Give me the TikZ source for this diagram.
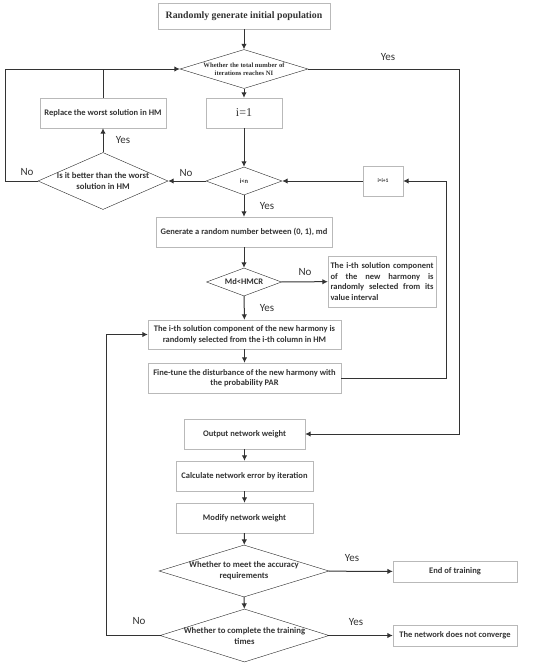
\documentclass[tikz,border=0pt]{standalone}
\usepackage{fontspec}
\setmainfont{Carlito}
\newfontfamily\tms{Liberation Serif}
\usetikzlibrary{shapes.geometric,arrows.meta,shadows}

\newcommand{\jline}[1]{\makebox[103pt][s]{#1}}

\tikzset{
  box/.style={draw=gray!55, fill=white, inner sep=2pt, align=center,
    text=black!80, font=\bfseries\fontsize{8.5}{10.5}\selectfont,
    drop shadow={opacity=0.2, shadow xshift=0.8pt, shadow yshift=-0.8pt}},
  dec/.style={diamond, draw=black!85, fill=white, inner sep=0pt},
  dtxt/.style={align=center, inner sep=0pt, text=black!80,
    font=\bfseries\fontsize{8.7}{11}\selectfont},
  lbl/.style={text=black!80, font=\fontsize{11}{13}\selectfont},
  arr/.style={-{Latex[length=5.5pt,width=5.5pt]}, draw=black!80, line width=1pt},
  ln/.style={draw=black!80, line width=1pt}
}

\begin{document}
\begin{tikzpicture}[x=1pt, y=-1pt]
    \useasboundingbox (0,0) rectangle (550,670);

    % harmony search part
    \node[box, minimum width=172pt, minimum height=26pt,
      font=\tms\bfseries\fontsize{9.8}{11}\selectfont] (start) at (244,16)
      {Randomly generate initial population};
    \node[dec, minimum width=128pt, minimum height=39pt,
      label={[dtxt, font=\tms\bfseries\fontsize{6.6}{8}\selectfont]center:{Whether the total number of\\iterations reaches NI}}]
      (ni) at (244,69) {};
    \node[box, minimum width=76pt, minimum height=30pt,
      font=\tms\fontsize{12}{14}\selectfont] (ione) at (244,113) {i=1};
    \node[box, minimum width=126pt, minimum height=30pt] (rep) at (103,113)
      {Replace the worst solution in HM};
    \node[dec, minimum width=130pt, minimum height=57pt,
      label={[dtxt]center:{Is it better than the worst\\solution in HM}}]
      (better) at (103,181) {};
    \node[dec, minimum width=76pt, minimum height=28pt,
      label={[dtxt, font=\bfseries\fontsize{6.5}{8}\selectfont]center:i<n}]
      (iln) at (244,181) {};
    \node[box, minimum width=40pt, minimum height=30pt,
      font=\bfseries\fontsize{5.5}{6.5}\selectfont] (inc) at (383,181) {i=i+1};
    \node[box, minimum width=176pt, minimum height=30pt] (gen) at (244,232)
      {Generate a random number between (0, 1), md};
    \node[dec, minimum width=75pt, minimum height=28pt,
      label={[dtxt, font=\bfseries\fontsize{8.5}{10}\selectfont]center:Md<HMCR}]
      (md) at (244,282) {};
    \node[box, minimum width=108pt, minimum height=51pt, align=left] (intv) at (382,281.5)
      {\jline{The i-th solution component}\\\jline{of the new harmony is}\\
       \jline{randomly selected from its}\\value interval};
    \node[box, minimum width=193pt, minimum height=29pt] (col) at (244.5,334.5)
      {The i-th solution component of the new harmony is\\randomly selected from the i-th column in HM};
    \node[box, minimum width=193pt, minimum height=30pt] (fine) at (244.5,378)
      {Fine-tune the disturbance of the new harmony with\\the probability PAR};

    % network training part
    \node[box, minimum width=121pt, minimum height=30pt] (out) at (244.5,434)
      {Output network weight};
    \node[box, minimum width=137pt, minimum height=30pt] (calc) at (244.5,476)
      {Calculate network error by iteration};
    \node[box, minimum width=137pt, minimum height=30pt] (mod) at (244.5,518)
      {Modify network weight};
    \node[dec, minimum width=170pt, minimum height=52pt,
      label={[dtxt]center:{Whether to meet the accuracy\\requirements}}]
      (acc) at (244,571) {};
    \node[dec, minimum width=169pt, minimum height=53pt,
      label={[dtxt]center:{Whether to complete the training\\times}}]
      (times) at (244.5,635.5) {};
    \node[box, minimum width=124pt, minimum height=21pt] (endt) at (455,571.5)
      {End of training};
    \node[box, minimum width=124pt, minimum height=21pt] (nconv) at (455,635.5)
      {The network does not converge};

    % corners of the loops
    \coordinate (lft) at (5,69);
    \coordinate (rgt) at (459,69);
    \coordinate (back) at (446,181);
    \coordinate (lft2) at (106,635.5);

    % connectors
    \draw[arr] (start) -- (ni);
    \draw[arr] (ni) -- (ione);
    \draw[arr] (ione) -- (iln);
    \draw[arr] (iln) -- (better);
    \draw[arr] (iln) -- (gen);
    \draw[arr] (gen) -- (md);
    \draw[arr] (md) -- (intv);
    \draw[arr] (md) -- (col);
    \draw[arr] (col) -- (fine);
    \draw[arr] (fine.east) -| (back) -- (inc);
    \draw[arr] (inc) -- (iln);
    \draw[arr] (better) -- (rep);
    \draw[ln] (rep.north) -- (rep.north |- ni);
    \draw[arr] (better.west) -| (lft) -- (ni.west);
    \draw[arr] (ni.east) -- (rgt) |- (out.east);
    \draw[arr] (out) -- (calc);
    \draw[arr] (calc) -- (mod);
    \draw[arr] (mod) -- (acc);
    \draw[arr] (acc) -- (times);
    \draw[arr] (acc) -- (endt);
    \draw[arr] (times) -- (nconv);
    \draw[arr] (times.west) -- (lft2) |- (col.west);

    % labels
    \node[lbl] (y1) at (388,57) {Yes};
    \node[lbl] (y2) at (123,140) {Yes};
    \node[lbl] (n1) at (27,172) {No};
    \node[lbl] (n2) at (186,173) {No};
    \node[lbl] (y3) at (267,206) {Yes};
    \node[lbl] (n3) at (305,272) {No};
    \node[lbl] (y4) at (267,308) {Yes};
    \node[lbl] (y5) at (352,558) {Yes};
    \node[lbl] (y6) at (356,622) {Yes};
    \node[lbl] (n4) at (139,621) {No};
\end{tikzpicture}
\end{document}
